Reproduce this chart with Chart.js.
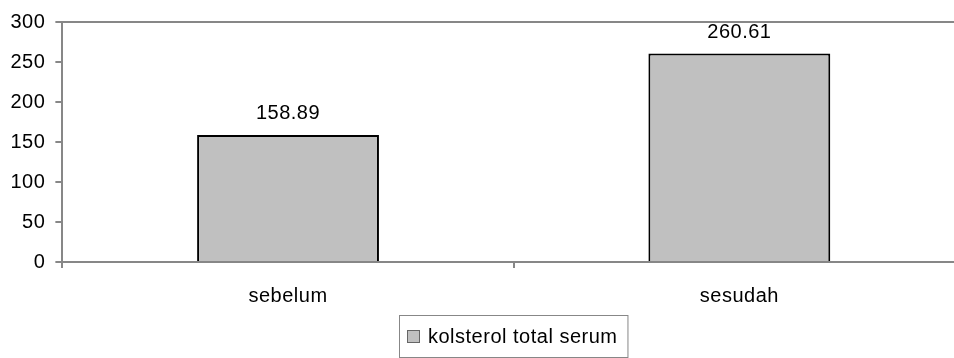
<!DOCTYPE html>
<html>
<head>
<meta charset="utf-8">
<script src="https://cdn.jsdelivr.net/npm/chart.js@4.4.1/dist/chart.umd.min.js"></script>
<style>
  html, body { margin: 0; padding: 0; background: #fff; overflow: hidden; }
  #wrap { width: 954px; height: 358px; overflow: hidden; }
  canvas { display: block; }
</style>
</head>
<body>
<div id="wrap"><canvas id="chart" width="965" height="358"></canvas></div>
<script>
const categories = ["sebelum", "sesudah"];
const values = [158.89, 260.61];
const seriesName = "kolsterol total serum";
const yTicks = [0, 50, 100, 150, 200, 250, 300];

const FONT = "'Liberation Sans', Arial, sans-serif";
const SPACING = "0.5px";
const axisGray = "#878787";

const spacing = {
  id: "spacing",
  beforeInit(chart) { chart.ctx.letterSpacing = SPACING; },
  beforeDraw(chart) { chart.ctx.letterSpacing = SPACING; },
};

// value labels above the bars
const valueLabels = {
  id: "valueLabels",
  afterDatasetsDraw(chart) {
    const ctx = chart.ctx;
    const meta = chart.getDatasetMeta(0);
    ctx.save();
    ctx.letterSpacing = SPACING;
    ctx.font = "20px " + FONT;
    ctx.fillStyle = "#000";
    ctx.textAlign = "center";
    ctx.textBaseline = "bottom";
    meta.data.forEach((bar, i) => {
      ctx.fillText(values[i].toFixed(2), bar.x, bar.y - 11);
    });
    ctx.restore();
  },
};

// boxed legend under the axis, centred on the plot area
const boxLegend = {
  id: "boxLegend",
  afterDraw(chart) {
    const ctx = chart.ctx;
    const ds = chart.data.datasets[0];
    ctx.save();
    ctx.letterSpacing = SPACING;
    ctx.font = "20px " + FONT;
    const w = ctx.measureText(ds.label).width;
    const total = 8 + 14 + 7 + w + 10;
    const cx = (chart.chartArea.left + chart.chartArea.right) / 2;
    const left = Math.round(cx - total / 2);
    const top = 315;
    ctx.strokeStyle = axisGray;
    ctx.lineWidth = 1;
    ctx.strokeRect(left + 0.5, top + 0.5, total, 42);
    ctx.fillStyle = ds.backgroundColor;
    ctx.fillRect(left + 8, top + 15, 13, 13);
    ctx.strokeStyle = "#666";
    ctx.strokeRect(left + 8.5, top + 15.5, 12, 12);
    ctx.fillStyle = "#000";
    ctx.textBaseline = "middle";
    ctx.fillText(ds.label, left + 8 + 14 + 7, top + 22);
    ctx.restore();
  },
};

new Chart(document.getElementById("chart"), {
  type: "bar",
  data: {
    labels: categories,
    datasets: [
      {
        label: seriesName,
        data: values,
        backgroundColor: "#c0c0c0",
        borderColor: "#000",
        borderWidth: 2,
        borderSkipped: "bottom",
        categoryPercentage: 1,
        barPercentage: 0.403,
      },
    ],
  },
  options: {
    responsive: false,
    animation: false,
    devicePixelRatio: 1,
    layout: { padding: { top: 11, right: 0, left: 2, bottom: 34 } },
    plugins: {
      legend: { display: false },
      tooltip: { enabled: false },
    },
    scales: {
      x: {
        grid: {
          offset: true,
          drawOnChartArea: false,
          color: axisGray,
          tickColor: axisGray,
          tickLength: 6,
          lineWidth: 2,
        },
        border: { color: axisGray, width: 2 },
        ticks: {
          color: "#000",
          font: { family: FONT, size: 20 },
          padding: 16,
        },
      },
      y: {
        min: 0,
        max: 300,
        afterBuildTicks: (axis) => {
          axis.ticks = yTicks.map((v) => ({ value: v }));
        },
        grid: {
          color: (c) => (c.tick && c.tick.value === 300 ? axisGray : "transparent"),
          tickColor: axisGray,
          tickLength: 7,
          lineWidth: 2,
        },
        border: { color: axisGray, width: 2 },
        ticks: {
          color: "#000",
          font: { family: FONT, size: 20 },
          padding: 10,
        },
      },
    },
  },
  plugins: [spacing, valueLabels, boxLegend],
});
</script>
</body>
</html>
